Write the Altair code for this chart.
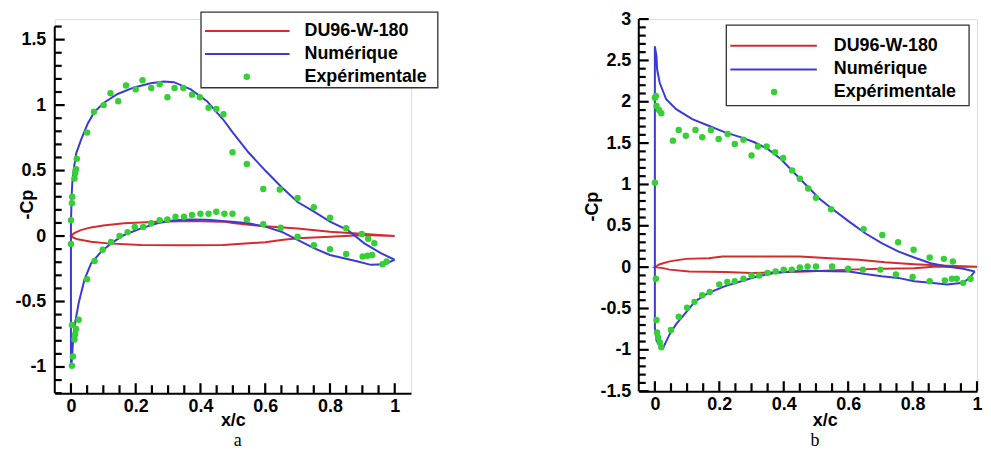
import altair as alt
import pandas as pd

# ---------------- data ----------------
legend_labels = ["DU96-W-180", "Numérique", "Expérimentale"]
x_tick_labels = [0, 0.2, 0.4, 0.6, 0.8, 1]
a_y_tick_labels = [-1, -0.5, 0, 0.5, 1, 1.5]
b_y_tick_labels = [-1.5, -1, -0.5, 0, 0.5, 1, 1.5, 2, 2.5, 3]

a_foil = [(1.0, 0.0), (0.906, 0.015), (0.80, 0.033), (0.70, 0.058), (0.60, 0.074),
          (0.50, 0.10), (0.47, 0.11), (0.37, 0.115), (0.267, 0.11), (0.164, 0.097),
          (0.10, 0.08), (0.062, 0.066), (0.03, 0.045), (0.01, 0.022), (0.0, 0.0),
          (0.01, -0.015), (0.021, -0.025), (0.062, -0.043), (0.113, -0.056),
          (0.216, -0.068), (0.35, -0.07), (0.47, -0.068), (0.55, -0.055),
          (0.60, -0.048), (0.65, -0.03), (0.70, -0.017), (0.80, -0.005),
          (0.906, 0.008), (1.0, 0.0)]

a_num = [(1.0, -0.18), (0.996, -0.177), (0.957, -0.13), (0.906, -0.056), (0.855, 0.046),
         (0.80, 0.11), (0.752, 0.185), (0.70, 0.26), (0.65, 0.375), (0.60, 0.50),
         (0.548, 0.64), (0.50, 0.79), (0.47, 0.89), (0.42, 1.03), (0.37, 1.12),
         (0.318, 1.175), (0.287, 1.18), (0.246, 1.167), (0.195, 1.135), (0.144, 1.085),
         (0.103, 1.02), (0.073, 0.95), (0.052, 0.86), (0.032, 0.74), (0.016, 0.63),
         (0.008, 0.50), (0.004, 0.40), (0.002, 0.30), (0.001, 0.20), (0.0, 0.10),
         (0.0, -0.5), (0.0, -0.99), (0.001, -1.0), (0.003, -0.94), (0.006, -0.82),
         (0.011, -0.69), (0.024, -0.51), (0.042, -0.33), (0.062, -0.21), (0.093, -0.12),
         (0.124, -0.056), (0.164, 0.008), (0.216, 0.059), (0.267, 0.097), (0.318, 0.12),
         (0.37, 0.127), (0.42, 0.125), (0.497, 0.11), (0.548, 0.097), (0.60, 0.072),
         (0.65, 0.033), (0.70, -0.03), (0.752, -0.094), (0.80, -0.145), (0.886, -0.195),
         (0.926, -0.22), (0.97, -0.215), (1.0, -0.18)]

a_exp = [(0.0, 0.12), (0.003, 0.25), (0.004, 0.30), (0.011, 0.44), (0.013, 0.48),
         (0.016, 0.51), (0.018, 0.59), (0.05, 0.79), (0.071, 0.95), (0.101, 1.0),
         (0.122, 1.09), (0.146, 1.03), (0.17, 1.15), (0.20, 1.12), (0.221, 1.19),
         (0.248, 1.13), (0.274, 1.16), (0.298, 1.06), (0.32, 1.13), (0.347, 1.13),
         (0.374, 1.08), (0.398, 1.06), (0.425, 0.98), (0.449, 0.97), (0.471, 0.93),
         (0.499, 0.64), (0.543, 0.55), (0.594, 0.36), (0.645, 0.355), (0.70, 0.29),
         (0.75, 0.22), (0.80, 0.14), (0.85, 0.06), (0.898, 0.015), (0.918, -0.02),
         (0.937, -0.055),
         (0.0, -0.06), (0.003, -0.68), (0.003, -0.99), (0.006, -0.92), (0.011, -0.79),
         (0.013, -0.75), (0.016, -0.71), (0.024, -0.64), (0.05, -0.33), (0.073, -0.19),
         (0.098, -0.105), (0.124, -0.045), (0.15, 0.0), (0.175, 0.03), (0.197, 0.07),
         (0.223, 0.07), (0.248, 0.097), (0.274, 0.12), (0.298, 0.127), (0.323, 0.147),
         (0.349, 0.147), (0.374, 0.16), (0.40, 0.17), (0.425, 0.17), (0.449, 0.185),
         (0.474, 0.17), (0.499, 0.17), (0.543, 0.127), (0.594, 0.09), (0.648, 0.064),
         (0.70, -0.005), (0.75, -0.07), (0.80, -0.10), (0.85, -0.137), (0.901, -0.157),
         (0.916, -0.15), (0.93, -0.145), (0.962, -0.215), (0.975, -0.195)]

b_foil = [(1.0, 0.005), (0.907, 0.017), (0.805, 0.036), (0.714, 0.06), (0.633, 0.09),
          (0.53, 0.11), (0.45, 0.13), (0.37, 0.13), (0.21, 0.13), (0.167, 0.108),
          (0.096, 0.10), (0.046, 0.07), (0.015, 0.035), (0.0, 0.0),
          (0.025, -0.012), (0.046, -0.03), (0.106, -0.052), (0.218, -0.06),
          (0.30, -0.072), (0.47, -0.052), (0.603, -0.03), (0.704, -0.02),
          (0.805, -0.012), (0.876, 0.008), (1.0, 0.005)]

b_num = [(0.993, -0.052), (0.957, -0.02), (0.907, 0.008), (0.856, 0.048), (0.805, 0.117),
         (0.755, 0.19), (0.704, 0.29), (0.653, 0.41), (0.603, 0.55), (0.552, 0.70),
         (0.51, 0.83), (0.47, 0.99), (0.43, 1.15), (0.39, 1.31), (0.35, 1.43),
         (0.309, 1.51), (0.268, 1.57), (0.218, 1.63), (0.167, 1.71), (0.116, 1.79),
         (0.066, 1.91), (0.035, 2.03), (0.015, 2.23), (0.007, 2.39), (0.005, 2.55),
         (0.0, 2.67), (0.0, -0.73), (0.005, -0.89), (0.02, -0.97), (0.025, -0.98),
         (0.046, -0.81), (0.066, -0.69), (0.096, -0.55), (0.126, -0.41), (0.167, -0.31),
         (0.218, -0.23), (0.268, -0.17), (0.319, -0.11), (0.37, -0.072), (0.42, -0.052),
         (0.47, -0.043), (0.552, -0.05), (0.603, -0.052), (0.653, -0.084), (0.704, -0.11),
         (0.755, -0.13), (0.805, -0.17), (0.856, -0.19), (0.907, -0.21), (0.957, -0.19),
         (0.977, -0.13), (0.993, -0.052)]

b_exp = [(0.0, 2.05), (0.003, 2.07), (0.005, 1.95), (0.013, 1.90), (0.02, 1.86),
         (0.0, 1.02), (0.056, 1.53), (0.074, 1.66), (0.096, 1.59), (0.126, 1.66),
         (0.147, 1.57), (0.174, 1.66), (0.198, 1.55), (0.226, 1.61), (0.248, 1.49),
         (0.275, 1.54), (0.30, 1.35), (0.32, 1.46), (0.347, 1.46), (0.373, 1.39),
         (0.398, 1.32), (0.426, 1.17), (0.45, 1.07), (0.476, 0.95), (0.50, 0.84),
         (0.547, 0.70), (0.648, 0.46), (0.706, 0.39), (0.755, 0.30), (0.803, 0.21),
         (0.853, 0.117), (0.897, 0.10), (0.925, 0.068),
         (0.003, -0.14), (0.005, -0.64), (0.007, -0.79), (0.01, -0.85), (0.015, -0.91),
         (0.02, -0.97), (0.05, -0.76), (0.074, -0.60), (0.10, -0.49), (0.123, -0.42),
         (0.147, -0.34), (0.17, -0.30), (0.20, -0.21), (0.225, -0.18), (0.248, -0.17),
         (0.275, -0.14), (0.30, -0.10), (0.324, -0.10), (0.35, -0.072), (0.375, -0.052),
         (0.40, -0.03), (0.425, -0.03), (0.45, -0.004), (0.474, 0.008), (0.50, 0.008),
         (0.55, 0.008), (0.60, -0.02), (0.646, -0.03), (0.70, -0.03), (0.748, -0.09),
         (0.80, -0.12), (0.853, -0.17), (0.90, -0.16), (0.922, -0.14), (0.937, -0.14),
         (0.957, -0.19), (0.98, -0.14)]

RED = "#d22c2c"
BLUE = "#3a3ad6"
GREEN = "#36cf36"
FONT = "Liberation Sans"


def pts(pairs):
    return pd.DataFrame({"x": [p[0] for p in pairs], "y": [p[1] for p in pairs],
                         "i": list(range(len(pairs)))})


def panel(foil, num, exp, xdom, ydom, yline, ylabels, W, H, xtitle_x, xtitle_y,
          ytitle_x, ytitle_y, ylabpad, leg, letter, letter_dx):
    xsc = alt.Scale(domain=xdom, nice=False, zero=False)
    ysc = alt.Scale(domain=ydom, nice=False, zero=False)
    common = dict(labelFont=FONT, labelFontSize=18, labelFontWeight="bold",
                  labelColor="black", ticks=False, grid=False,
                  labelFlush=False, labelOverlap=False,
                  labelExpr="'' + datum.value",
                  titleFont=FONT, titleFontSize=18, titleFontWeight="bold",
                  titleColor="black", titleBaseline="middle")
    xax_args = dict(common, values=x_tick_labels, title="x/c", titleY=xtitle_y,
                    labelPadding=4, domain=True, domainColor="black", domainWidth=2)
    if xtitle_x is not None:
        xax_args["titleX"] = xtitle_x
    xax = alt.Axis(**xax_args)
    yax = alt.Axis(**common, values=ylabels, title="-Cp", titleX=ytitle_x, titleY=ytitle_y,
                   titleAngle=270, labelPadding=ylabpad, domain=False)
    X = alt.X("x:Q", scale=xsc, axis=xax)
    Y = alt.Y("y:Q", scale=ysc, axis=yax)

    foil_l = alt.Chart(pts(foil)).mark_line(color=RED, strokeWidth=2).encode(
        x=X, y=Y, order="i:Q")
    num_l = alt.Chart(pts(num)).mark_line(color=BLUE, strokeWidth=2).encode(
        x=X, y=Y, order="i:Q")
    exp_p = alt.Chart(pts(exp)).mark_circle(color=GREEN, size=42, opacity=1).encode(
        x=X, y=Y)

    # inward ticks: short two-point segments through the panel's scales
    px_x = (xdom[1] - xdom[0]) / W
    px_y = (ydom[1] - ydom[0]) / H
    tx_, ty_, tk_ = [], [], []
    k = 0
    for v in [round(0.05 * j, 2) for j in range(21)]:
        L = 10 if abs(v * 5 - round(v * 5)) < 1e-9 else 8
        tx_ += [v, v]
        ty_ += [ydom[0], ydom[0] + L * px_y]
        tk_ += [k, k]
        k += 1
    n = int(round((yline[1] - yline[0]) * 10))
    for v in [round(yline[0] + 0.1 * j, 1) for j in range(n + 1)]:
        L = 10 if abs(v * 2 - round(v * 2)) < 1e-9 else 7
        tx_ += [xdom[0], xdom[0] + L * px_x]
        ty_ += [v, v]
        tk_ += [k, k]
        k += 1
    ticks = alt.Chart(pd.DataFrame({"x": tx_, "y": ty_, "seg": tk_})).mark_line(
        color="#000000", strokeWidth=2.2, opacity=1).encode(x=X, y=Y, detail="seg:N")
    ydom_line = alt.Chart(pd.DataFrame({"y": [yline[0]], "y2": [yline[1]]})).mark_rule(
        color="black", strokeWidth=2).encode(y=Y, y2="y2:Q", x=alt.value(0))

    one = pd.DataFrame({"k": [0]})
    bx0, by0, bx1, by1, lx0, lx1, ly, dotx, tx = leg
    box = alt.Chart(one).mark_rect(fill="white", stroke="#333333", strokeWidth=1.3).encode(
        x=alt.value(bx0), x2=alt.value(bx1), y=alt.value(by0), y2=alt.value(by1))
    red_s = alt.Chart(one).mark_rule(color=RED, strokeWidth=2).encode(
        x=alt.value(lx0), x2=alt.value(lx1), y=alt.value(ly[0]))
    blue_s = alt.Chart(one).mark_rule(color=BLUE, strokeWidth=2).encode(
        x=alt.value(lx0), x2=alt.value(lx1), y=alt.value(ly[1]))
    dot_s = alt.Chart(one).mark_circle(color=GREEN, size=42, opacity=1).encode(
        x=alt.value(dotx), y=alt.value(ly[2]))
    texts = []
    for j, lab in enumerate(legend_labels):
        texts.append(alt.Chart(pd.DataFrame({"t": [lab]})).mark_text(
            align="left", baseline="middle", font=FONT, fontSize=18, fontWeight="bold",
            color="black").encode(text="t:N", x=alt.value(tx), y=alt.value(ly[j])))

    layers = [ticks, ydom_line, foil_l, num_l, exp_p,
              box, red_s, blue_s, dot_s] + texts
    return alt.layer(*layers).properties(
        width=W, height=H,
        title=alt.TitleParams(letter, orient="bottom", font="Liberation Serif",
                              fontSize=18, fontWeight="normal", color="black",
                              offset=2, frame="group", anchor="middle", dx=letter_dx))


left = panel(a_foil, a_num, a_exp, xdom=[-0.05, 1.05], ydom=[-1.2, 1.657],
             yline=[-1.2, 1.6], ylabels=a_y_tick_labels, W=358, H=376,
             xtitle_x=None, xtitle_y=28, ytitle_x=-27, ytitle_y=186, ylabpad=9,
             leg=(147, -7, 385, 69, 151, 236, [12, 35, 58], 193, 251),
             letter="a", letter_dx=5)

right = panel(b_foil, b_num, b_exp, xdom=[-0.05, 1.0], ydom=[-1.5, 3.0],
              yline=[-1.5, 3.0], ylabels=b_y_tick_labels, W=340, H=374,
              xtitle_x=187, xtitle_y=30, ytitle_x=-46, ytitle_y=188, ylabpad=8,
              leg=(88, 6, 332, 87, 92, 179, [26.7, 50.7, 73.3], 136, 196),
              letter="b", letter_dx=7)

chart = alt.hconcat(left, right, spacing=144).properties(
    padding={"left": 6, "top": 0, "right": 0, "bottom": 0}
).configure_view(stroke=None).configure(background="white", font=FONT)

chart.save("out.html", embed_options={"renderer": "svg", "actions": False})
